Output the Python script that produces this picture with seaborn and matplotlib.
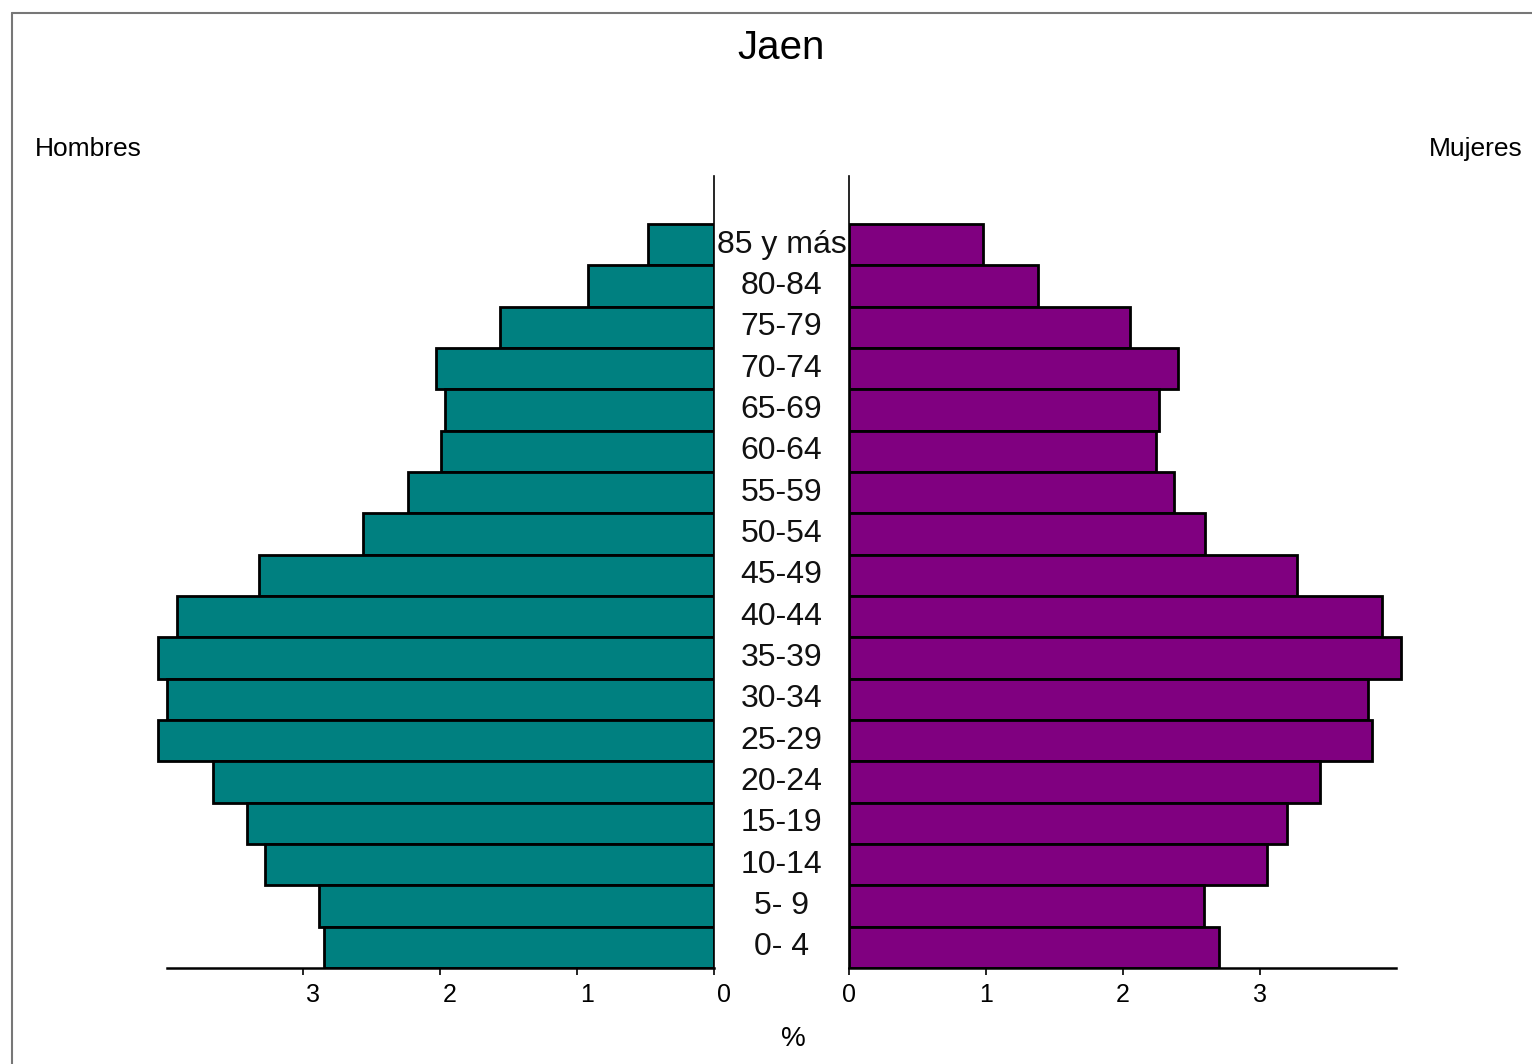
import matplotlib
matplotlib.use("Agg")
import matplotlib.pyplot as plt
import matplotlib.transforms as mtransforms
from matplotlib.lines import Line2D
import pandas as pd
import seaborn as sns

# age groups, top of the pyramid first
grupos = ["85 y más", "80-84", "75-79", "70-74", "65-69", "60-64", "55-59",
          "50-54", "45-49", "40-44", "35-39", "30-34", "25-29", "20-24",
          "15-19", "10-14", "5- 9", "0- 4"]
hombres = [0.48, 0.92, 1.56, 2.03, 1.96, 1.99, 2.23, 2.56, 3.32, 3.92,
           4.06, 3.99, 4.06, 3.66, 3.41, 3.28, 2.88, 2.85]
mujeres = [0.98, 1.38, 2.05, 2.40, 2.26, 2.24, 2.37, 2.60, 3.27, 3.89,
           4.03, 3.79, 3.82, 3.44, 3.20, 3.05, 2.59, 2.70]
ticks = [0, 1, 2, 3]

df = pd.DataFrame({"grupo": grupos, "Hombres": hombres, "Mujeres": mujeres})

sns.set_theme(style="white")
plt.rcParams["font.family"] = ["Liberation Sans", "DejaVu Sans"]
plt.rcParams["text.color"] = "black"

fig = plt.figure(figsize=(15.32, 10.64), dpi=100)
W, H = 1532, 1064
bottom = 1 - 968 / H
height = 792 / H
axL = fig.add_axes([152.3 / W, bottom, 561.7 / W, height])
axR = fig.add_axes([849 / W, bottom, 561.7 / W, height])

sns.barplot(data=df, x="Hombres", y="grupo", orient="h", color="#008080",
            saturation=1, edgecolor="black", linewidth=2, width=1, ax=axL)
sns.barplot(data=df, x="Mujeres", y="grupo", orient="h", color="#800080",
            saturation=1, edgecolor="black", linewidth=2, width=1, ax=axR)

for ax, side in ((axL, "right"), (axR, "left")):
    ax.patch.set_visible(False)
    ax.set_ylim(len(grupos) - 0.5, -1.66)
    ax.set_yticks([])
    ax.set_xlabel("")
    ax.set_ylabel("")
    ax.set_xticks(ticks)
    ax.set_xticklabels([str(t) for t in ticks])
    ax.tick_params(axis="x", bottom=True, direction="out", length=5, width=1.2,
                   pad=6, labelsize=18, colors="black")
    for s in ("top", "left", "right"):
        ax.spines[s].set_visible(s == side)
    ax.spines[side].set_linewidth(1.2)
    ax.spines[side].set_color("black")
    ax.spines["bottom"].set_linewidth(1.8)
    ax.spines["bottom"].set_color("black")
    ax.spines["bottom"].set_bounds(0, 3.99)

axL.set_xlim(4.1, 0)
axR.set_xlim(0, 4.1)

# left tick labels sit a little right of their ticks in the original
shift = mtransforms.ScaledTranslation(10 / 100, 0, fig.dpi_scale_trans)
for lab in axL.get_xticklabels():
    lab.set_transform(lab.get_transform() + shift)

# age labels in the gap, behind the bars
trans = mtransforms.blended_transform_factory(fig.transFigure, axL.transData)
for i, g in enumerate(grupos):
    axL.text(781.5 / W, i, g, transform=trans, ha="center", va="center",
             fontsize=23, color="#111111", zorder=0.5)

fig.text(781 / W, 1 - 48 / H, "Jaen", ha="center", va="center", fontsize=29)
fig.text(35 / W, 1 - 149 / H, "Hombres", ha="left", va="center", fontsize=19)
fig.text(1523 / W, 1 - 149 / H, "Mujeres", ha="right", va="center", fontsize=19)
fig.text(793 / W, 1 - 1039 / H, "%", ha="center", va="center", fontsize=20)

# frame lines at top and left
fig.add_artist(Line2D([12 / W, 1], [1 - 13 / H, 1 - 13 / H], color="#777777", lw=1.5))
fig.add_artist(Line2D([12 / W, 12 / W], [0, 1 - 13 / H], color="#777777", lw=1.5))

fig.savefig("out.png", dpi=100, facecolor="white")
